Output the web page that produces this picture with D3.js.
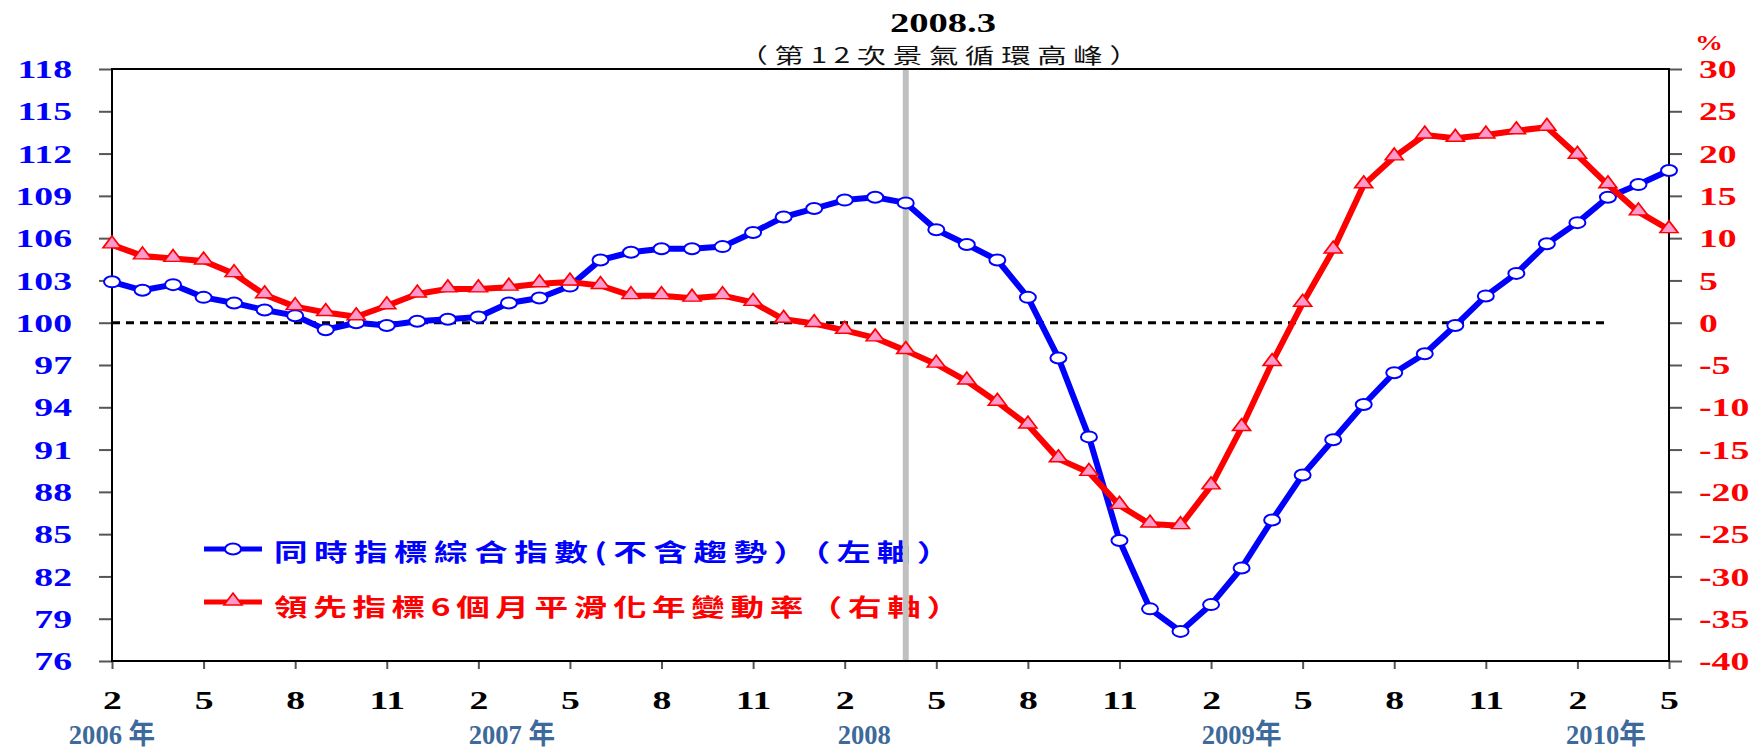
<!DOCTYPE html>
<html>
<head>
<meta charset="utf-8">
<script src="https://cdn.jsdelivr.net/npm/d3@7"></script>
<style>
  body { margin: 0; background: #fff; }
  svg { display: block; }
</style>
</head>
<body>
<svg width="1755" height="749"></svg>
<script>
// ---- data ----
// one entry per month, Feb 2006 .. May 2010
var months = d3.timeMonth.range(new Date(2006, 1, 1), new Date(2010, 5, 1)).map(d3.timeFormat("%Y-%m"));

// coincident composite index (trend excluded), left axis
var coincident = [102.9, 102.3, 102.7, 101.8, 101.4, 100.9, 100.5, 99.5, 100.0, 99.8,
  100.1, 100.25, 100.4, 101.4, 101.75, 102.6, 104.45, 105.0, 105.25, 105.25,
  105.4, 106.4, 107.5, 108.1, 108.7, 108.9, 108.5, 106.6, 105.55, 104.45,
  101.8, 97.5, 91.9, 84.55, 79.7, 78.1, 80.0, 82.6, 86.0, 89.2,
  91.7, 94.2, 96.45, 97.8, 99.8, 101.9, 103.5, 105.6, 107.1, 108.9,
  109.8, 110.8];

// leading index, 6-month smoothed annual change (%), right axis
var leading = [9.2, 7.9, 7.6, 7.3, 5.8, 3.3, 1.9, 1.2, 0.7, 2.0,
  3.4, 4.0, 4.0, 4.2, 4.6, 4.8, 4.4, 3.2, 3.2, 2.9,
  3.2, 2.4, 0.4, -0.1, -0.9, -1.8, -3.3, -4.9, -6.9, -9.4,
  -12.1, -16.1, -17.7, -21.6, -23.8, -24.0, -19.3, -12.4, -4.7, 2.3,
  8.6, 16.3, 19.6, 22.2, 21.8, 22.2, 22.7, 23.1, 19.8, 16.3,
  13.1, 11.0];

var leftTicks = [76, 79, 82, 85, 88, 91, 94, 97, 100, 103, 106, 109, 112, 115, 118];
var rightTicks = [-40, -35, -30, -25, -20, -15, -10, -5, 0, 5, 10, 15, 20, 25, 30];
var xTickMonths = ["2006-02", "2006-05", "2006-08", "2006-11", "2007-02", "2007-05", "2007-08", "2007-11",
  "2008-02", "2008-05", "2008-08", "2008-11", "2009-02", "2009-05", "2009-08", "2009-11", "2010-02", "2010-05"];
var yearLabels = ["2006 年", "2007 年", "2008", "2009年", "2010年"];
var yearLabelMonths = ["2006-02", "2007-03", "2008-03", "2009-03", "2010-03"];

var peakMonth = "2008-04";
var peakTitle = "2008.3";
var peakSubtitle = "（第12次景氣循環高峰）";
var zeroLineEnd = "2010-03";

var seriesNames = ["同時指標綜合指數(不含趨勢）（左軸）", "領先指標6個月平滑化年變動率（右軸）"];

// ---- layout ----
var svg = d3.select("svg");
var plotL = 112, plotR = 1669, plotT = 69, plotB = 661;
var blue = "#0000ff", red = "#ff0000", pink = "#ff99cc";
var serif = "'Liberation Serif', 'Times New Roman', 'Noto Sans CJK TC', serif";
var cjk = "'Noto Sans CJK TC', 'Noto Sans CJK SC', sans-serif";
var sx = 1.45; // the original is stretched sideways

var x = d3.scaleLinear().domain([0, months.length - 1]).range([plotL, plotR]);
var xm = function(key) { return x(months.indexOf(key)); };
var yL = d3.scaleLinear().domain([76, 118]).range([plotB, plotT]);
var yR = d3.scaleLinear().domain([-40, 30]).range([plotB, plotT]);

// stretched text helper
function stext(px, py, str, scale) {
  return svg.append("text")
    .attr("transform", "translate(" + px + "," + py + ") scale(" + scale + ",1)")
    .text(str);
}

// legend
var legend = svg.append("g");
legend.append("line").attr("x1", 204).attr("x2", 262).attr("y1", 549).attr("y2", 549)
  .attr("stroke", blue).attr("stroke-width", 5);
legend.append("ellipse").attr("cx", 233).attr("cy", 549).attr("rx", 8).attr("ry", 5.5)
  .attr("fill", "#fff").attr("stroke", blue).attr("stroke-width", 2);
legend.append("line").attr("x1", 204).attr("x2", 262).attr("y1", 602).attr("y2", 602)
  .attr("stroke", red).attr("stroke-width", 5);
legend.append("path").attr("d", d3.symbol(d3.symbolTriangle, 90)())
  .attr("transform", "translate(233,601) scale(1.25,0.95)")
  .attr("fill", pink).attr("stroke", red).attr("stroke-width", 1.5);
[[561, blue, 4.6], [616, red, 4.0]].forEach(function(r, i) {
  stext(274, r[0], seriesNames[i], 1.4)
    .attr("font-family", cjk).attr("font-size", 24).attr("font-weight", "bold")
    .attr("letter-spacing", r[2]).attr("fill", r[1]);
});

// peak marker bar
svg.append("line")
  .attr("x1", xm(peakMonth)).attr("x2", xm(peakMonth))
  .attr("y1", plotT).attr("y2", plotB)
  .attr("stroke", "#c0c0c0").attr("stroke-width", 6);

stext(943, 32, peakTitle, 1.43)
  .attr("text-anchor", "middle").attr("font-family", serif)
  .attr("font-size", 27).attr("font-weight", "bold");
stext(942, 63, peakSubtitle, 1.4)
  .attr("text-anchor", "middle").attr("font-family", cjk)
  .attr("font-size", 21).attr("letter-spacing", 4.8).attr("fill", "#111");

// zero line
svg.append("line")
  .attr("x1", plotL).attr("x2", xm(zeroLineEnd))
  .attr("y1", yR(0)).attr("y2", yR(0))
  .attr("stroke", "#000").attr("stroke-width", 3).attr("stroke-dasharray", "8,6");

// axes
function styleAxis(g, color) {
  g.select(".domain").remove();
  g.selectAll(".tick line").attr("stroke", "#555").attr("stroke-width", 2);
  g.attr("font-family", serif).attr("font-size", 26).attr("font-weight", "bold");
  g.selectAll(".tick text").attr("fill", color);
}

var gL = svg.append("g").attr("transform", "translate(" + plotL + ",0)")
  .call(d3.axisLeft(yL).tickValues(leftTicks).tickSize(13).tickPadding(0));
styleAxis(gL, blue);
gL.selectAll(".tick text").attr("x", -40 / sx).attr("dy", "0.33em").attr("transform", "scale(" + sx + ",1)");

var gR = svg.append("g").attr("transform", "translate(" + plotR + ",0)")
  .call(d3.axisRight(yR).tickValues(rightTicks).tickFormat(String).tickSize(13).tickPadding(0));
styleAxis(gR, red);
gR.selectAll(".tick text").attr("x", 30 / sx).attr("dy", "0.33em").attr("transform", "scale(" + sx + ",1)");

var gB = svg.append("g").attr("transform", "translate(0," + plotB + ")")
  .call(d3.axisBottom(x).tickValues(xTickMonths.map(function(k) { return months.indexOf(k); }))
    .tickFormat(function(i) { return +months[i].slice(5); }).tickSize(8));
styleAxis(gB, "#000");
gB.selectAll(".tick text").attr("y", 48).attr("dy", 0).attr("transform", "scale(" + sx + ",1)");

var yearNudge = [0, 3, -11, 0, -2];
yearLabels.forEach(function(t, i) {
  stext(xm(yearLabelMonths[i]) + yearNudge[i], 744, t, 0.95)
    .attr("text-anchor", "middle").attr("font-family", serif)
    .attr("font-size", 28).attr("font-weight", "bold").attr("fill", "#3d6a9b");
});

stext(1709, 50, "%", 1.4)
  .attr("text-anchor", "middle").attr("font-family", serif)
  .attr("font-size", 20).attr("font-weight", "bold").attr("fill", red);

// plot frame
svg.append("rect").attr("x", plotL).attr("y", plotT)
  .attr("width", plotR - plotL).attr("height", plotB - plotT)
  .attr("fill", "none").attr("stroke", "#000").attr("stroke-width", 2);

// coincident index line
svg.append("path").datum(coincident)
  .attr("fill", "none").attr("stroke", blue).attr("stroke-width", 6).attr("stroke-linejoin", "round")
  .attr("d", d3.line().x(function(d, i) { return x(i); }).y(function(d) { return yL(d); }));
svg.append("g").selectAll("ellipse").data(coincident).enter().append("ellipse")
  .attr("cx", function(d, i) { return x(i); })
  .attr("cy", function(d) { return yL(d); })
  .attr("rx", 8).attr("ry", 5.5)
  .attr("fill", "#fff").attr("stroke", blue).attr("stroke-width", 2);

// leading index change line
svg.append("path").datum(leading)
  .attr("fill", "none").attr("stroke", red).attr("stroke-width", 6).attr("stroke-linejoin", "round")
  .attr("d", d3.line().x(function(d, i) { return x(i); }).y(function(d) { return yR(d); }));
svg.append("g").selectAll("path").data(leading).enter().append("path")
  .attr("d", d3.symbol(d3.symbolTriangle, 90)())
  .attr("transform", function(d, i) { return "translate(" + x(i) + "," + (yR(d) - 1) + ") scale(1.25,0.95)"; })
  .attr("fill", pink).attr("stroke", red).attr("stroke-width", 1.5);
</script>
</body>
</html>
